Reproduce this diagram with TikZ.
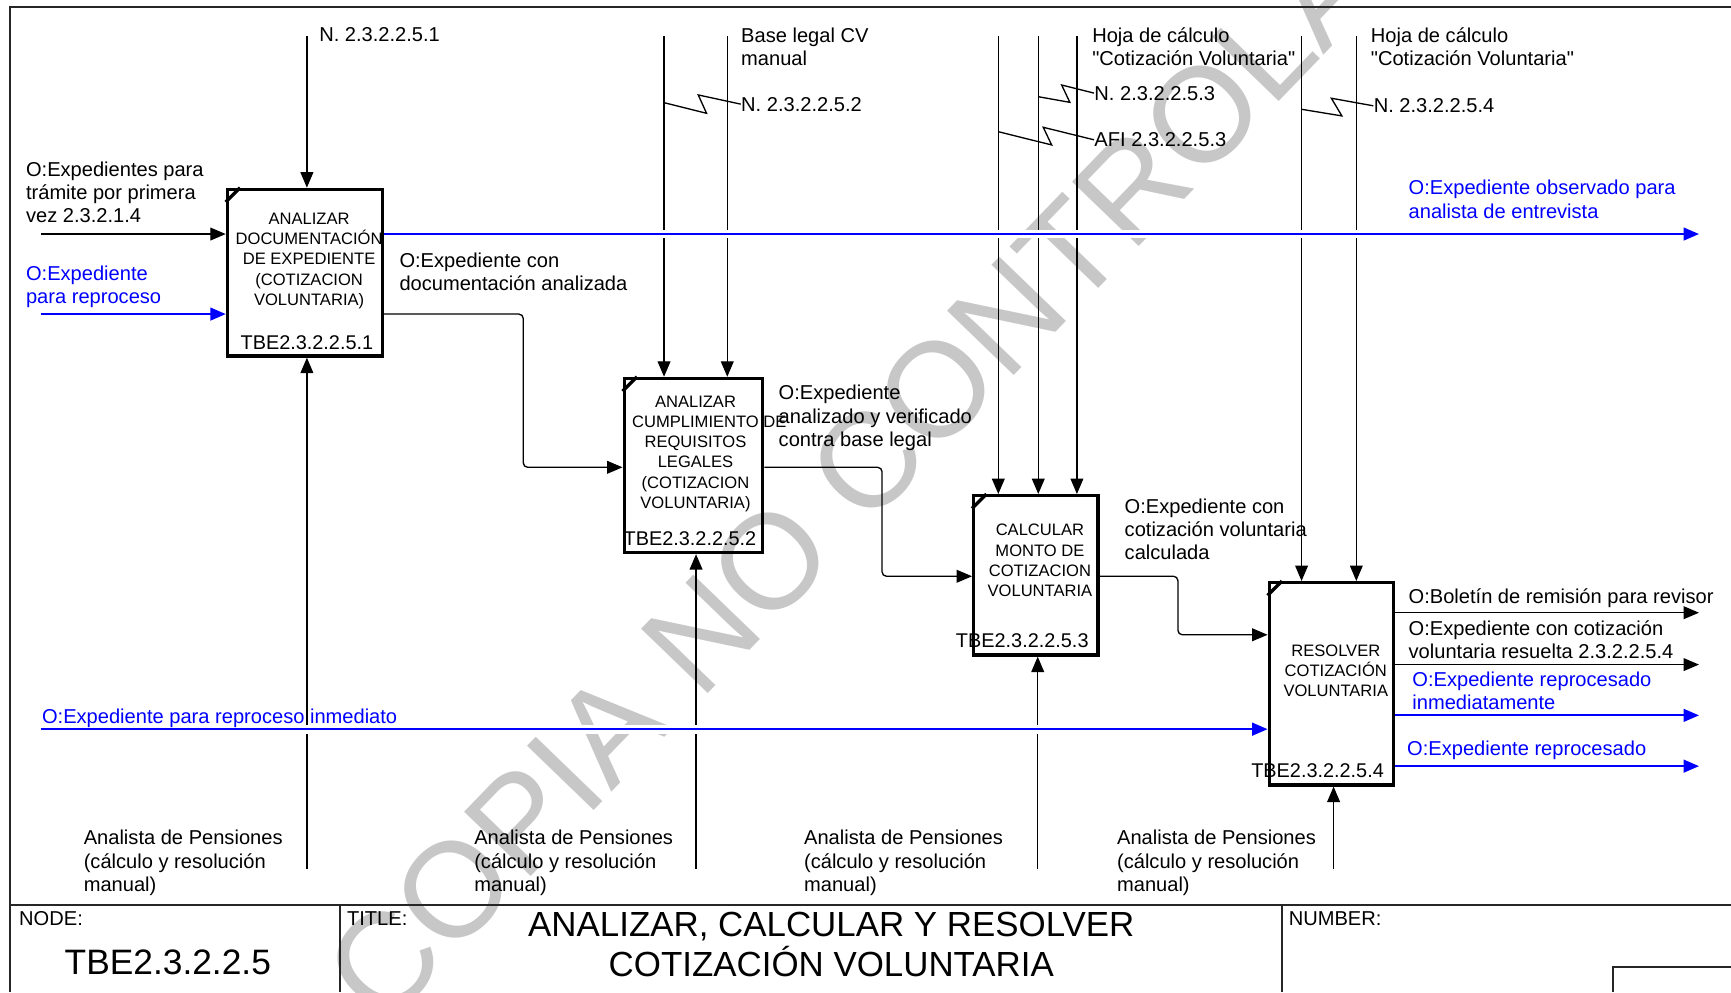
\documentclass[tikz,border=0pt]{standalone}
\usepackage{fontspec}
\setmainfont{Liberation Sans}[Ligatures=TeXOff]
\usepackage{xcolor}
\usepackage{tikz}
\usetikzlibrary{arrows.meta,fit}

\begin{document}
\begin{tikzpicture}[x=0.5pt, y=-0.5pt,
    flow/.style={draw, line width=0.6pt, -{Triangle[length=7pt,width=5.8pt]}},
    bflow/.style={flow, blue, line width=0.9pt,
        preaction={draw=white, line width=4pt, arrows=-, shorten <=2.5pt, shorten >=2.5pt}},
    actbox/.style={draw, line width=1.5pt, inner sep=0pt},
    corner/.style={line width=1.5pt},
    squig/.style={line width=0.6pt},
    frame/.style={line width=0.8pt, black!85},
    lbl/.style={anchor=north west, inner sep=0pt, align=left, font=\fontsize{9.1}{10.5}\selectfont},
    blbl/.style={lbl, text=blue},
    boxtxt/.style={anchor=north, inner sep=0pt, align=center, font=\fontsize{7.5}{9.2}\selectfont},
    boxid/.style={inner sep=0pt, font=\fontsize{9}{10}\selectfont},
    wmark/.style={inner sep=0pt, text=black!22, font=\fontsize{61}{61}\selectfont}
]
    \useasboundingbox (0,0) rectangle (1568,898.6);
    \clip (0,0) rectangle (1568,898.6);

    % Watermark
    \node[wmark, rotate=46] (wm) at (830,372) {COPIA NO CONTROLADA};

    % Frame and title bar
    \draw[frame] (9,898.6) -- (9,6) -- (1568,6);
    \draw[frame] (9,820) -- (1568,820);
    \draw[frame] (308,820) -- (308,898.6);
    \draw[frame] (1161,820) -- (1161,898.6);
    \draw[frame] (1461,898.6) -- (1461,876) -- (1568,876);

    % Activity boxes
    \node[actbox, fit={(206,171.5) (346.5,322.5)}] (a1) {};
    \node[actbox, fit={(565.4,342.8) (691,500.5)}] (a2) {};
    \node[actbox, fit={(882,449) (994.6,593.3)}] (a3) {};
    \node[actbox, fit={(1149.7,527.8) (1262,711)}] (a4) {};
    \foreach \b in {a1,a2,a3,a4}
        \draw[corner] ([yshift=-6.5pt]\b.north west) -- ([xshift=6.5pt]\b.north west);

    % Free ends of the arrows
    \coordinate (c1) at (278,33);
    \coordinate (c2a) at (601.5,33);
    \coordinate (c2b) at (658.8,33);
    \coordinate (c3a) at (904.3,33);
    \coordinate (c3b) at (940.5,33);
    \coordinate (c3c) at (975.5,33);
    \coordinate (c4a) at (1179,33);
    \coordinate (c4b) at (1228.6,33);
    \coordinate (m1) at (278,787);
    \coordinate (m2) at (630.5,787);
    \coordinate (m3) at (940,787);
    \coordinate (m4) at (1208,787);
    \coordinate (i1) at (37.5,212);
    \coordinate (i1b) at (37.5,284.5);
    \coordinate (i4b) at (37.5,660.5);
    \coordinate (o1b) at (1539,212);
    \coordinate (o4a) at (1539,555);
    \coordinate (o4b) at (1539,602);
    \coordinate (o4c) at (1539,648);
    \coordinate (o4d) at (1539,694);
    \coordinate (r1) at (474,284.5);
    \coordinate (r2) at (474,423.3);
    \coordinate (r3) at (799,423.3);
    \coordinate (r4) at (799,522);
    \coordinate (r5) at (1067,522);
    \coordinate (r6) at (1067,575);

    % Controls
    \foreach \c/\b in {c1/a1, c2a/a2, c2b/a2, c3a/a3, c3b/a3, c3c/a3, c4a/a4, c4b/a4}
        \draw[flow] (\c) -- (\c |- \b.north);

    % Mechanisms
    \foreach \m/\b in {m1/a1, m2/a2, m3/a3, m4/a4}
        \draw[flow] (\m) -- (\m |- \b.south);

    % Inputs and links between boxes
    \draw[flow] (i1) -- (i1 -| a1.west);
    \draw[flow, rounded corners=2pt] (a1.east |- r1) -- (r1) -- (r2) -- (a2.west |- r2);
    \draw[flow, rounded corners=2pt] (a2.east |- r3) -- (r3) -- (r4) -- (a3.west |- r4);
    \draw[flow, rounded corners=2pt] (a3.east |- r5) -- (r5) -- (r6) -- (a4.west |- r6);

    % Outputs
    \draw[flow] (a4.east |- o4a) -- (o4a);
    \draw[flow] (a4.east |- o4b) -- (o4b);

    % Blue arrows (reprocess)
    \draw[bflow] (i1b) -- (i1b -| a1.west);
    \draw[bflow] (a1.east |- o1b) -- (o1b);
    \draw[bflow] (i4b) -- (i4b -| a4.west);
    \draw[bflow] (a4.east |- o4c) -- (o4c);
    \draw[bflow] (a4.east |- o4d) -- (o4d);

    % Box texts
    \node[boxtxt] (a1txt) at (280,192.5) {ANALIZAR\\DOCUMENTACIÓN\\DE EXPEDIENTE\\(COTIZACION\\VOLUNTARIA)};
    \node[boxtxt] (a2txt) at (630,358) {ANALIZAR\\CUMPLIMIENTO\rlap{ DE}\\REQUISITOS\\LEGALES\\(COTIZACION\\VOLUNTARIA)};
    \node[boxtxt] (a3txt) at (942,474.6) {CALCULAR\\MONTO DE\\COTIZACION\\VOLUNTARIA};
    \node[boxtxt] (a4txt) at (1210,583.6) {RESOLVER\\COTIZACIÓN\\VOLUNTARIA};
    \node[boxid] (a1id) at (278,310) {TBE2.3.2.2.5.1};
    \node[boxid] (a2id) at (625,487.5) {TBE2.3.2.2.5.2};
    \node[boxid] (a3id) at (926,580) {TBE2.3.2.2.5.3};
    \node[boxid] (a4id) at (1193.5,698.5) {TBE2.3.2.2.5.4};

    % Control labels
    \node[lbl] (lc1) at (288.8,24.7) {N. 2.3.2.2.5.1};
    \node[lbl] (lc2a) at (671,24.7) {Base legal CV\\manual};
    \node[lbl] (lc2b) at (671,87.5) {N. 2.3.2.2.5.2};
    \node[lbl] (lc3a) at (989,24.7) {Hoja de cálculo\\"Cotización Voluntaria"};
    \node[lbl] (lc3b) at (991,77.5) {N. 2.3.2.2.5.3};
    \node[lbl] (lc3c) at (991,119.8) {AFI 2.3.2.2.5.3};
    \node[lbl] (lc4a) at (1241.4,24.7) {Hoja de cálculo\\"Cotización Voluntaria"};
    \node[lbl] (lc4b) at (1244,89) {N. 2.3.2.2.5.4};

    % Squiggles from labels to arrows
    \draw[squig] (c2a |- 0,93) -- ++(38.5,9.6) -- ++(-7.5,-16.6) -- (lc2b.west);
    \draw[squig] (c3b |- 0,87.6) -- ++(28.6,5.1) -- ++(-7.4,-15.7) -- (lc3b.west);
    \draw[squig] (c3a |- 0,119.3) -- ++(48.3,12) -- ++(-7.6,-16) -- (lc3c.west);
    \draw[squig] (c4a |- 0,99) -- ++(36.5,6) -- ++(-9.5,-16) -- (lc4b.west);

    % Input labels
    \node[lbl] (li1) at (23.2,146.4) {O:Expedientes para\\trámite por primera\\vez 2.3.2.1.4};
    \node[blbl] (li1b) at (23.2,240.6) {O:Expediente\\para reproceso};
    \node[blbl] (li4b) at (37.7,642.2) {O:Expediente para reproceso inmediato};

    % Output labels
    \node[lbl] (lo1) at (361.5,229) {O:Expediente con\\documentación analizada};
    \node[blbl] (lo1b) at (1275.6,163) {O:Expediente observado para\\analista de entrevista};
    \node[lbl] (lo2) at (705,348.7) {O:Expediente\\analizado y verificado\\contra base legal};
    \node[lbl] (lo3) at (1018.4,451.6) {O:Expediente con\\cotización voluntaria\\calculada};
    \node[lbl] (lo4a) at (1275.6,532.9) {O:Boletín de remisión para revisor};
    \node[lbl] (lo4b) at (1275.6,561.5) {O:Expediente con cotización\\voluntaria resuelta 2.3.2.2.5.4};
    \node[blbl] (lo4c) at (1279,608) {O:Expediente reprocesado\\inmediatamente};
    \node[blbl] (lo4d) at (1274.3,670.8) {O:Expediente reprocesado};

    % Mechanism labels
    \foreach \x/\n in {75.5/lm1, 429.2/lm2, 728/lm3, 1011.5/lm4}
        \node[lbl] (\n) at (\x,751.8) {Analista de Pensiones\\(cálculo y resolución\\manual)};

    % Title bar
    \node[lbl] (nodelbl) at (17,825) {NODE:};
    \node[inner sep=0pt, font=\fontsize{16}{18}\selectfont] (nodeid) at (152,872) {TBE2.3.2.2.5};
    \node[lbl] (titlelbl) at (314,825) {TITLE:};
    \node[inner sep=0pt, align=center, font=\fontsize{15.8}{18.5}\selectfont] (title) at (753,855.5) {ANALIZAR, CALCULAR Y RESOLVER\\COTIZACIÓN VOLUNTARIA};
    \node[lbl] (numlbl) at (1167,825) {NUMBER:};
\end{tikzpicture}
\end{document}
